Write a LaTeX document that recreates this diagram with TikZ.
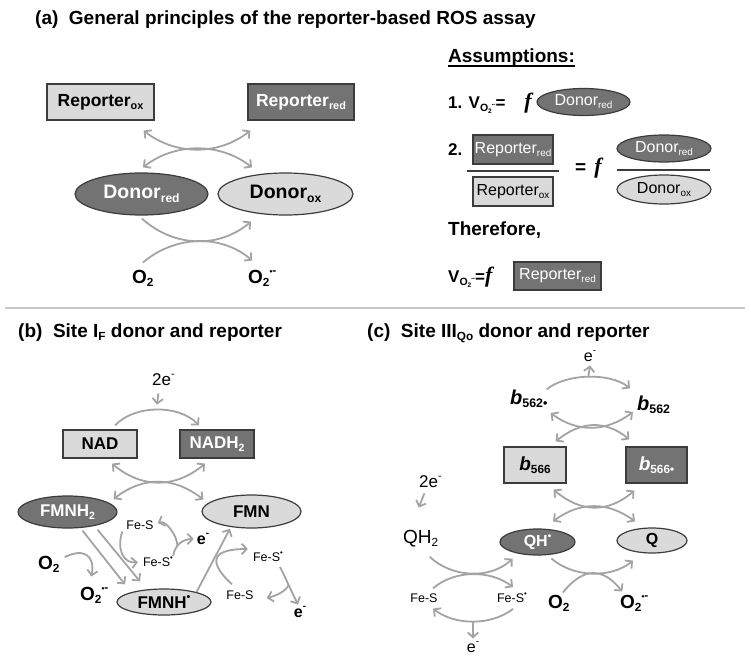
\documentclass[tikz,border=0pt]{standalone}
\usepackage{fontspec}
\setmainfont{Liberation Sans}
\newfontfamily\funcfont{Liberation Serif}
\usetikzlibrary{arrows,arrows.meta,shapes}

\definecolor{lgray}{HTML}{DADADA}
\definecolor{dgray}{HTML}{737373}
\definecolor{rim}{HTML}{3C3C3C}
\definecolor{flowgray}{HTML}{A3A3A3}
\definecolor{divgray}{HTML}{C8C8C8}

\newcommand{\fsz}[1]{\fontsize{#1}{#1}\selectfont}
\newcommand{\lo}[1]{\raisebox{-0.35ex}{\scalebox{0.62}{#1}}}
\newcommand{\hi}[1]{\raisebox{0.85ex}{\scalebox{0.62}{#1}}}
\newcommand{\rad}{\hi{\scalebox{0.7}{•}-}}
\newcommand{\ctr}[1]{\makebox[0pt]{#1}}
\newcommand{\fn}{{\funcfont\bfseries\itshape f}}

\tikzset{
  lbox/.style={rectangle, draw=rim, fill=lgray, line width=1.2pt, inner sep=0pt},
  dbox/.style={lbox, fill=dgray, text=white},
  loval/.style={ellipse, draw=rim, fill=lgray, line width=1.2pt, inner sep=0pt},
  doval/.style={loval, fill=dgray, text=white},
  flow/.style={draw=flowgray, line width=1.8pt, >={Straight Barb[length=5pt,width=10.5pt]}},
  lab/.style={inner sep=0pt, anchor=base west},
  fes/.style={inner sep=0pt, font=\fsz{12.5}},
}

\begin{document}
\begin{tikzpicture}[x=1pt,y=-1pt]
\useasboundingbox (0,0) rectangle (751,669);

% (a) reporter assay
\draw (35,25) node[lab] (ta) {\fsz{19}\bfseries (a)\ \ General principles of the reporter-based ROS assay};

\draw (100.5,102) node[lbox, minimum width=107pt, minimum height=36pt] (rox) {\fsz{17.5}\bfseries\ctr{Reporter\lo{ox}}};
\draw (301,102) node[dbox, minimum width=106pt, minimum height=36pt] (rred) {\fsz{17.5}\bfseries\ctr{Reporter\lo{red}}};
\draw (141.5,194) node[doval, minimum width=133pt, minimum height=42pt] (dred) {\fsz{19.5}\bfseries\ctr{Donor\lo{red}}};
\draw (285.5,194) node[loval, minimum width=135pt, minimum height=42pt] (dox) {\fsz{19.5}\bfseries\ctr{Donor\lo{ox}}};
\draw (132,283) node[lab] (o2a) {\fsz{19}\bfseries O\lo{2}};
\draw (248,283) node[lab] (supa) {\fsz{19}\bfseries O\lo{2}\rad};

\draw[flow,<->] ([xshift=-11pt,yshift=-10pt]rox.south east) .. controls +(32,25) and +(-32,25) .. ([xshift=3pt,yshift=-10pt]rred.south west);
\draw[flow,<->] ([xshift=1.5pt,yshift=5pt]dred.north) .. controls +(32,-25) and +(-32,-25) .. ([xshift=-33.5pt,yshift=5pt]dox.north);
\draw[flow,->] ([xshift=0.5pt,yshift=-3pt]dred.south) .. controls +(32,29) and +(-32,27) .. ([xshift=-34.5pt,yshift=-6pt]dox.south);
\draw[flow,->] ([yshift=7pt]o2a.north) .. controls +(32,-27) and +(-32,-27) .. ([xshift=-10pt,yshift=9pt]supa.north);

% assumptions
\draw (448,63) node[lab] (ass) {\fsz{19}\bfseries Assumptions:};
\draw[line width=1.2pt] ([yshift=-3pt]ass.base west) -- ([yshift=-3pt]ass.base east);

\draw (448,108) node[lab] (eq1) {\fsz{17}\bfseries 1. V\lo{O\lo{2}\rad}=};
\draw (528,108) node[inner sep=0pt, anchor=base] (f1) {\fsz{22}\fn};
\draw (583.5,102) node[doval, minimum width=93pt, minimum height=27pt] (e1d) {\fsz{16}\ctr{Donor\lo{red}}};

\draw (448,155) node[lab] (eq2) {\fsz{17}\bfseries 2.};
\draw (513,149.5) node[dbox, minimum width=80pt, minimum height=29pt] (e2rr) {\fsz{16}\ctr{Reporter\lo{red}}};
\draw (513,191.5) node[lbox, minimum width=80pt, minimum height=29pt] (e2ro) {\fsz{16}\ctr{Reporter\lo{ox}}};
\draw[line width=1.5pt, rim] (467,171) -- (559,171);
\draw (575,173) node[lab] (f2) {\fsz{19}\bfseries =\hspace{8pt}\fsz{22}\fn};
\draw (664,148.5) node[doval, minimum width=94pt, minimum height=27pt] (e2dr) {\fsz{16}\ctr{Donor\lo{red}}};
\draw (664,189.5) node[loval, minimum width=94pt, minimum height=29pt] (e2do) {\fsz{16}\ctr{Donor\lo{ox}}};
\draw[line width=1.5pt, rim] (617,170) -- (710,170);

\draw (448,235) node[lab] (ther) {\fsz{19}\bfseries Therefore,};
\draw (448,282) node[lab] (eq3) {\fsz{17}\bfseries V\lo{O\lo{2}\rad}=\fsz{22}\fn};
\draw (557.5,276) node[dbox, minimum width=87pt, minimum height=28pt] (e3rr) {\fsz{16}\ctr{Reporter\lo{red}}};

\draw[line width=2.5pt, divgray] (5,308) -- (745,308);

% (b) site IF
\draw (18,337) node[lab] (tb) {\fsz{19}\bfseries (b)\ \ Site I\lo{F} donor and reporter};

\draw (152,385) node[lab] (b2e) {\fsz{17}2e\hi{-}};
\draw (100,444) node[lbox, minimum width=74pt, minimum height=28pt] (nad) {\fsz{17}\bfseries\ctr{NAD}};
\draw (217,444) node[dbox, minimum width=74pt, minimum height=28pt] (nadh) {\fsz{17}\bfseries\ctr{NADH\lo{2}}};
\draw (67.5,512) node[doval, minimum width=99pt, minimum height=32pt] (fmnh2) {\fsz{17}\bfseries\ctr{FMNH\lo{2}}};
\draw (251.5,511.5) node[loval, minimum width=99pt, minimum height=33pt] (fmn) {\fsz{17}\bfseries\ctr{FMN}};
\draw (164,602) node[loval, minimum width=94pt, minimum height=26pt] (fmnhr) {\fsz{17}\bfseries\ctr{FMNH\hi{•}}};

\draw[flow,->] ([xshift=15pt,yshift=4pt]nad.north) .. controls +(20,-21) and +(-20,-21) .. coordinate[pos=0.5] (nadtop) ([xshift=-18pt,yshift=4pt]nadh.north);
\draw[flow,->] ([xshift=-5pt,yshift=-8pt]b2e.south) -- ([yshift=5pt]nadtop);
\draw[flow,<->] ([xshift=12pt,yshift=-5pt]nad.south) .. controls +(30,25) and +(-30,25) .. ([xshift=-12pt,yshift=-5pt]nadh.south);
\draw[flow,<->] ([xshift=-4pt,yshift=13pt]fmnh2.east) .. controls +(30,-23) and +(-30,-23) .. ([xshift=2pt,yshift=12pt]fmn.west);

\draw[flow,->] ([xshift=15pt,yshift=-2pt]fmnh2.south) -- ([xshift=-39pt,yshift=4pt]fmnhr.north);
\draw[flow,->] ([xshift=30pt,yshift=-1pt]fmnh2.south) -- ([xshift=-24pt,yshift=7pt]fmnhr.north);

\draw (38,569) node[lab] (o2b) {\fsz{19}\bfseries O\lo{2}};
\draw (80,600) node[lab] (supb) {\fsz{19}\bfseries O\lo{2}\rad};
\draw[flow,->] ([xshift=5pt,yshift=7pt]o2b.east) .. controls +(20,-10) and +(4,-20) .. ([xshift=-3pt,yshift=10pt]supb.north);

% iron sulphur side reactions
\draw (140,525) node[fes] (fs1) {Fe-S};
\draw (158,562) node[fes] (fs1r) {Fe-S\hi{•}};
\draw (203,539) node[inner sep=0pt] (eb1) {\fsz{16}\bfseries e\hi{-}};
\draw[flow,->] ([xshift=-4pt,yshift=-2pt]fs1.south west) .. controls +(-6,18) and +(-14,2) .. ([xshift=-5pt]fs1r.west);
\draw[flow,->] ([yshift=6pt]fs1r.east) .. controls +(2,-12) and +(-10,0) .. coordinate[pos=0.35] (fk1) ([xshift=-3pt]eb1.west);
\draw[flow,->] (fk1) .. controls +(0,-10) and +(8,-3) .. ([xshift=4pt,yshift=2pt]fs1.east);

\draw[flow,->, shorten >=2pt] (fmnhr.17) -- (fmn.217);
\draw (268,557) node[fes] (fs2r) {Fe-S\hi{•}};
\draw (240,595) node[fes] (fs2) {Fe-S};
\draw (300,612) node[inner sep=0pt] (eb2) {\fsz{16}\bfseries e\hi{-}};
\draw[flow,->] ([xshift=-8pt,yshift=6pt]fs2.north) .. controls +(-27,-25) and +(-33,0) .. ([xshift=-5pt,yshift=8pt]fs2r.west);
\draw[flow,->] ([xshift=12pt,yshift=-5pt]fs2r.south) .. controls +(5,10) and +(-6,-12) .. coordinate[pos=0.5] (fk2) ([xshift=-2pt,yshift=2pt]eb2.north);
\draw[flow,->] (fk2) .. controls +(-3,7) and +(8,-2) .. ([xshift=13pt,yshift=-3pt]fs2.east);

% (c) site IIIQo
\draw (367,337) node[lab] (tc) {\fsz{19}\bfseries (c)\ \ Site III\lo{Qo} donor and reporter};

\draw (590,356) node[inner sep=0pt] (et) {\fsz{16}e\hi{-}};
\draw (510,404) node[lab] (b562r) {\fsz{20}\bfseries\itshape b\lo{\upshape 562•}};
\draw (637,410) node[lab] (b562) {\fsz{20}\bfseries\itshape b\lo{\upshape 562}};
\draw (535,465) node[lbox, minimum width=62pt, minimum height=36pt] (b566) {\fsz{19}\bfseries\ctr{\textit{b}\lo{566}}};
\draw (656.5,465) node[dbox, minimum width=61pt, minimum height=36pt] (b566r) {\fsz{19}\bfseries\ctr{\textit{b}\lo{566•}}};
\draw (537.5,542) node[doval, minimum width=75pt, minimum height=26pt] (qhr) {\fsz{16}\bfseries\ctr{QH\hi{•}}};
\draw (652,540.5) node[loval, minimum width=70pt, minimum height=25pt] (q) {\fsz{16}\bfseries\ctr{Q}};

\draw[flow,->] ([xshift=-1pt]b562r.north east) .. controls +(20,-16) and +(-20,-16) .. coordinate[pos=0.5] (ctop) ([xshift=-7pt,yshift=7pt]b562.north west);
\draw[flow,->] (ctop) -- ([yshift=-4pt]et.south);
\draw[flow,<->] ([xshift=3pt,yshift=-5pt]b562r.south east) .. controls +(27,20) and +(-27,20) .. ([xshift=-4pt,yshift=2pt]b562.south west);
\draw[flow,<->] ([xshift=-11pt,yshift=5pt]b566.north east) .. controls +(25,-20) and +(-25,-20) .. ([xshift=4pt,yshift=7pt]b566r.north west);
\draw[flow,<->] ([xshift=-13pt,yshift=-6pt]b566.south east) .. controls +(27,23) and +(-27,23) .. ([xshift=9pt,yshift=-7pt]b566r.south west);
\draw[flow,<->] ([xshift=15.5pt,yshift=7pt]qhr.north) .. controls +(27,-20) and +(-27,-20) .. ([xshift=-17pt,yshift=6pt]q.north);

\draw (419,487) node[lab] (c2e) {\fsz{17}2e\hi{-}};
\draw (403,543) node[lab] (qh2) {\fsz{19}QH\lo{2}};
\draw[flow,->] ([xshift=-6pt,yshift=-6pt]c2e.south) -- ([xshift=-2pt,yshift=22pt]qh2.north);

\draw (424,598) node[fes] (fs3) {Fe-S};
\draw (512,598) node[fes] (fs3r) {Fe-S\hi{•}};
\draw (473,647) node[inner sep=0pt] (ecb) {\fsz{16}e\hi{-}};
\draw[flow,->] ([xshift=9pt,yshift=-10pt]qh2.south) .. controls +(22,21) and +(-22,21) .. ([xshift=-25pt,yshift=-3pt]qhr.south);
\draw[flow,->] ([xshift=9pt,yshift=5pt]fs3.north) .. controls +(22,-19) and +(-22,-17) .. ([xshift=1pt,yshift=6pt]fs3r.north);
\draw[flow,->] ([xshift=1pt,yshift=-6pt]fs3r.south) .. controls +(-22,17) and +(22,17) .. coordinate[pos=0.5] (cbot) ([xshift=9pt,yshift=-6pt]fs3.south);
\draw[flow,->] (cbot) -- ([yshift=3pt]ecb.north);

\draw (548,608) node[lab] (o2c) {\fsz{19}\bfseries O\lo{2}};
\draw (620,608) node[lab] (supc) {\fsz{19}\bfseries O\lo{2}\rad};
\draw[flow,->] ([xshift=14pt,yshift=-3pt]qhr.south) .. controls +(22,19) and +(-22,18) .. ([xshift=-19pt,yshift=-7pt]q.south);
\draw[flow,->] ([xshift=4pt,yshift=2pt]o2c.north) .. controls +(20,-25) and +(-20,-25) .. ([xshift=-12pt,yshift=3pt]supc.north);
\end{tikzpicture}
\end{document}
